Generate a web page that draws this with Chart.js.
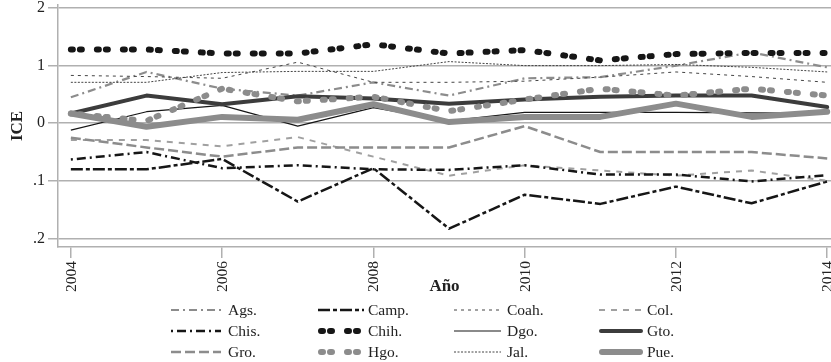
<!DOCTYPE html>
<html><head><meta charset="utf-8">
<script src="https://cdn.jsdelivr.net/npm/chart.js@4"></script>
<style>html,body{margin:0;padding:0;background:#fff}#c{display:block}</style>
</head><body>
<canvas id="c" width="831" height="362"></canvas>
<script>
// ---- data ----
const years = [2004, 2005, 2006, 2007, 2008, 2009, 2010, 2011, 2012, 2013, 2014];
const ags  = [0.045, 0.089, 0.060, 0.048, 0.071, 0.048, 0.078, 0.080, 0.100, 0.123, 0.097];
const camp = [-0.080, -0.080, -0.062, -0.136, -0.078, -0.183, -0.124, -0.140, -0.110, -0.139, -0.101];
const coah = [0.083, 0.081, 0.078, 0.106, 0.071, 0.071, 0.073, 0.080, 0.089, 0.081, 0.071];
const col  = [-0.029, -0.029, -0.040, -0.024, -0.058, -0.091, -0.073, -0.082, -0.091, -0.082, -0.100];
const chis = [-0.063, -0.050, -0.078, -0.073, -0.080, -0.081, -0.073, -0.089, -0.089, -0.101, -0.090];
const chih = [0.128, 0.128, 0.121, 0.121, 0.137, 0.121, 0.127, 0.109, 0.120, 0.122, 0.122];
const dgo  = [-0.012, 0.020, 0.031, -0.005, 0.027, 0.004, 0.019, 0.019, 0.019, 0.018, 0.017];
const gto  = [0.017, 0.048, 0.033, 0.047, 0.043, 0.034, 0.041, 0.046, 0.048, 0.048, 0.028];
const gro  = [-0.025, -0.042, -0.058, -0.042, -0.042, -0.042, -0.005, -0.050, -0.050, -0.050, -0.061];
const hgo  = [0.017, 0.004, 0.060, 0.038, 0.046, 0.021, 0.041, 0.060, 0.048, 0.060, 0.048];
const jal  = [0.071, 0.071, 0.088, 0.090, 0.090, 0.107, 0.100, 0.100, 0.102, 0.097, 0.089];
const pue  = [0.017, -0.006, 0.011, 0.006, 0.033, 0.002, 0.011, 0.011, 0.034, 0.011, 0.020];

const seriesNames = ['Ags.', 'Camp.', 'Coah.', 'Col.', 'Chis.', 'Chih.', 'Dgo.', 'Gto.', 'Gro.', 'Hgo.', 'Jal.', 'Pue.'];
const seriesValues = [ags, camp, coah, col, chis, chih, dgo, gto, gro, hgo, jal, pue];

const xTickValues = [2004, 2006, 2008, 2010, 2012, 2014];
const yTickValues = [0.2, 0.1, 0, -0.1, -0.2];
const yTickLabels = ['2', '1', '0', '.1', '.2'];
const xTitle = 'Año';
const yTitle = 'ICE';

// ---- styles ----
const GRAY = '#8c8c8c', DARK = '#3c3c3c', BLACK = '#161616';
const styles = {
  'Ags.':  {color: GRAY,  width: 2.2, dash: [8, 4, 2, 4], cap: 'butt'},
  'Camp.': {color: BLACK, width: 2.5, dash: [12, 3, 4, 3], cap: 'butt'},
  'Coah.': {color: '#444', width: 1, dash: [3, 4], cap: 'butt'},
  'Col.':  {color: '#a0a0a0', width: 2, dash: [6, 6], cap: 'butt'},
  'Chis.': {color: BLACK, width: 2.5, dash: [2, 4, 9, 4], cap: 'butt'},
  'Chih.': {color: BLACK, width: 6, dash: [2, 7, 2, 15], cap: 'round'},
  'Dgo.':  {color: BLACK, width: 1.2, dash: [], cap: 'butt'},
  'Gto.':  {color: DARK, width: 4, dash: [], cap: 'round'},
  'Gro.':  {color: GRAY, width: 2.5, dash: [10, 4], cap: 'butt'},
  'Hgo.':  {color: GRAY, width: 6, dash: [2, 7, 2, 15], cap: 'round'},
  'Jal.':  {color: '#444', width: 1, dash: [2, 1.5], cap: 'butt'},
  'Pue.':  {color: GRAY, width: 6, dash: [], cap: 'round'}
};

const datasets = seriesNames.map((name, i) => {
  const s = styles[name];
  return {
    label: name,
    data: years.map((yr, j) => ({x: yr, y: seriesValues[i][j]})),
    borderColor: s.color,
    borderWidth: s.width,
    borderDash: s.dash,
    borderCapStyle: s.cap,
    borderJoinStyle: 'round',
    pointRadius: 0,
    fill: false,
    tension: 0,
    order: seriesNames.length - i
  };
});

// ---- custom legend (styles taken from datasets) ----
const legendRows = [
  ['Ags.', 'Camp.', 'Coah.', 'Col.'],
  ['Chis.', 'Chih.', 'Dgo.', 'Gto.'],
  ['Gro.', 'Hgo.', 'Jal.', 'Pue.']
];
const legendPlugin = {
  id: 'gridLegend',
  afterDraw(chart) {
    const ctx = chart.ctx;
    const symStart = [171, 318, 454, 599];
    const symEnd = [221, 364, 501, 643];
    const textX = [228, 368, 507, 647];
    const rowY = [310, 331, 352];
    ctx.save();
    legendRows.forEach((row, r) => {
      row.forEach((name, c) => {
        const ds = chart.data.datasets.find(d => d.label === name);
        ctx.save();
        ctx.strokeStyle = ds.borderColor;
        ctx.lineWidth = ds.borderWidth;
        ctx.setLineDash(ds.borderDash);
        ctx.lineCap = ds.borderCapStyle;
        ctx.beginPath();
        const inset = ds.borderCapStyle === 'round' ? ds.borderWidth / 2 : 0;
        ctx.moveTo(symStart[c] + inset, rowY[r]);
        ctx.lineTo(symEnd[c] - inset, rowY[r]);
        ctx.stroke();
        ctx.restore();
        ctx.fillStyle = '#222';
        ctx.font = '15.5px "Liberation Serif", serif';
        ctx.textBaseline = 'middle';
        ctx.textAlign = 'left';
        ctx.fillText(name, textX[c], rowY[r] + 1);
      });
    });
    ctx.restore();
  }
};

const GRID = '#b0b0b0';
const tickFont = {family: '"Liberation Serif", serif', size: 15.5};

new Chart(document.getElementById('c'), {
  type: 'line',
  data: {datasets},
  plugins: [legendPlugin],
  options: {
    responsive: false,
    animation: false,
    devicePixelRatio: 1,
    layout: {padding: {top: 5, right: 0, bottom: 65, left: 0}},
    plugins: {legend: {display: false}, tooltip: {enabled: false}},
    scales: {
      x: {
        type: 'linear',
        min: 2003.83,
        max: 2014.05,
        afterBuildTicks: s => { s.ticks = xTickValues.map(v => ({value: v})); },
        afterFit: s => { s.height = 50; s.paddingLeft = 0; s.paddingRight = 0; },
        ticks: {
          minRotation: 90, maxRotation: 90, padding: 3, color: '#222',
          font: tickFont, labelOffset: 1,
          callback: v => String(v)
        },
        grid: {drawOnChartArea: false, drawTicks: true, tickLength: 11, color: GRID, lineWidth: 1.5},
        border: {display: true, color: GRID, width: 1.5},
        title: {display: true, text: xTitle, color: '#222',
          font: {family: '"Liberation Serif", serif', size: 17, weight: 'bold'},
          padding: {top: 0, bottom: 0}}
      },
      y: {
        type: 'linear',
        min: -0.2148,
        max: 0.2052,
        afterBuildTicks: s => { s.ticks = yTickValues.map(v => ({value: v})); },
        afterFit: s => { s.width = 58; s.paddingTop = 0; s.paddingBottom = 0; },
        ticks: {
          padding: 3, color: '#222', font: {family: '"Liberation Serif", serif', size: 16},
          callback: (v) => { const k = yTickValues.findIndex(t => Math.abs(t - v) < 1e-9); return k >= 0 ? yTickLabels[k] : ''; }
        },
        grid: {drawOnChartArea: true, drawTicks: true, tickLength: 10, color: GRID, lineWidth: 1.5},
        border: {display: true, color: GRID, width: 1.5},
        title: {display: true, text: yTitle, color: '#222',
          font: {family: '"Liberation Serif", serif', size: 17, weight: 'bold'},
          padding: {top: 7, bottom: 0}}
      }
    }
  }
});
</script>
</body></html>
